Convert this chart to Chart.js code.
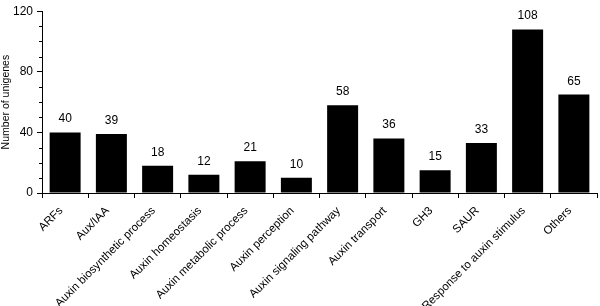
<!DOCTYPE html>
<html>
<head>
<meta charset="utf-8">
<script src="https://cdn.jsdelivr.net/npm/chart.js@4/dist/chart.umd.min.js"></script>
<style>
  html,body{margin:0;padding:0;background:#fff;}
  #wrap{width:600px;height:306px;}
</style>
</head>
<body>
<div id="wrap"><canvas id="chart" width="600" height="306"></canvas></div>
<script>
// ===================== Daten =====================
const categories = ["ARFs","Aux/IAA","Auxin biosynthetic process","Auxin homeostasis",
    "Auxin metabolic process","Auxin perception","Auxin signaling pathway","Auxin transport",
    "GH3","SAUR","Response to auxin stimulus","Others"];
const unigenes = [40,39,18,12,21,10,58,36,15,33,108,65];
const yTicks = [0,40,80,120];

// ===================== Plugins =====================
// Werte ueber den Balken
const valueLabels = {
    id:"valueLabels",
    afterDatasetsDraw(chart){
        const ctx = chart.ctx;
        const meta = chart.getDatasetMeta(0);
        ctx.save();
        ctx.font = "12px 'Liberation Sans', Arial, sans-serif";
        ctx.fillStyle = "#000";
        ctx.textAlign = "center";
        ctx.textBaseline = "alphabetic";
        meta.data.forEach((bar,i)=>{
            ctx.fillText(String(unigenes[i]), bar.x, bar.y - 10);
        });
        ctx.restore();
    }
};

// kleine Zwischenstriche auf der y-Achse
const minorTicks = {
    id:"minorTicks",
    afterDraw(chart){
        const y = chart.scales.y;
        const ctx = chart.ctx;
        ctx.save();
        ctx.strokeStyle = "#000";
        ctx.lineWidth = 1;
        for(let v=10; v<120; v+=10){
            if(v%40===0) continue;
            const py = Math.round(y.getPixelForValue(v))+0.5;
            ctx.beginPath();
            ctx.moveTo(y.right-3, py);
            ctx.lineTo(y.right, py);
            ctx.stroke();
        }
        ctx.restore();
    }
};

// ===================== Chart =====================
const chart = new Chart(document.getElementById("chart"),{
    type:"bar",
    data:{
        labels:categories,
        datasets:[{
            data:unigenes,
            backgroundColor:"#000",
            borderWidth:0,
            barPercentage:0.67,
            categoryPercentage:1
        }]
    },
    options:{
        responsive:false,
        animation:false,
        layout:{padding:{top:7,right:3,left:0,bottom:0}},
        plugins:{legend:{display:false},tooltip:{enabled:false}},
        scales:{
            x:{
                afterFit(s){ s.height = 113; },
                grid:{drawOnChartArea:false, color:"#000", tickLength:5, offset:true},
                border:{color:"#000", width:1},
                ticks:{
                    color:"#000",
                    autoSkip:false,
                    maxRotation:45, minRotation:45,
                    padding:6,
                    labelOffset:-4,
                    font:{family:"'Liberation Sans', Arial, sans-serif", size:11.5}
                }
            },
            y:{
                min:0, max:120,
                afterFit(s){ s.width = 42; },
                afterBuildTicks(s){ s.ticks = yTicks.map(v=>({value:v})); },
                grid:{drawOnChartArea:false, color:"#000", tickLength:5},
                border:{color:"#000", width:1},
                ticks:{
                    color:"#000",
                    padding:4,
                    font:{family:"'Liberation Sans', Arial, sans-serif", size:12}
                },
                title:{
                    display:true,
                    text:"Number of unigenes",
                    color:"#000",
                    padding:{top:0,bottom:2},
                    font:{family:"'Liberation Sans', Arial, sans-serif", size:10.5}
                }
            }
        }
    },
    plugins:[valueLabels, minorTicks]
});
</script>
</body>
</html>
